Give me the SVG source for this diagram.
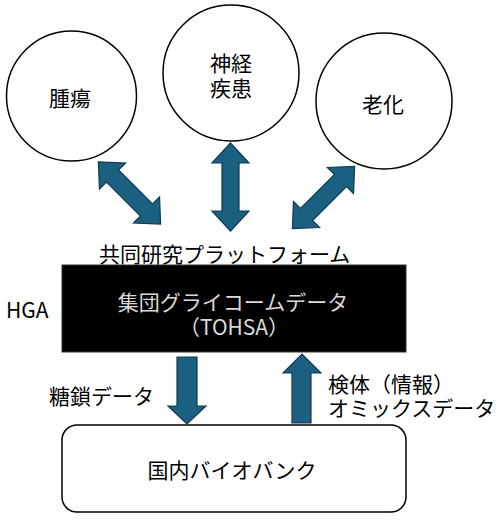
<svg xmlns="http://www.w3.org/2000/svg" width="500" height="520" viewBox="0 0 500 520">
<style>
.t{font-family:"Noto Sans CJK JP","Noto Sans",sans-serif;font-size:21px;fill:#000}
.w{fill:#d9d9d9}
.c{fill:#fff;stroke:#000;stroke-width:1.5}
.a{fill:#1b6080;stroke:#0f3a50;stroke-width:1.2}
</style>
<defs>
<path id="dbl" d="M0,-44 L18.5,-24 L8.5,-24 L8.5,24 L18.5,24 L0,44 L-18.5,24 L-8.5,24 L-8.5,-24 L-18.5,-24 Z"/>
</defs>
<rect width="500" height="520" fill="#fff"/>
<g id="tumor">
<circle class="c" cx="71.5" cy="96" r="65"/>
<text class="t" x="70" y="105.5" text-anchor="middle">腫瘍</text>
</g>
<g id="neuro">
<circle class="c" cx="231" cy="73" r="68"/>
<text class="t" x="231" y="70.5" text-anchor="middle">神経</text>
<text class="t" x="231" y="95.5" text-anchor="middle">疾患</text>
</g>
<g id="aging">
<circle class="c" cx="384" cy="101" r="68"/>
<text class="t" x="383" y="111.5" text-anchor="middle">老化</text>
</g>
<g id="platform">
<text class="t" x="99" y="261.5">共同研究プラットフォーム</text>
<rect x="62" y="265" width="344" height="87" fill="#000" stroke="#333" stroke-width="1"/>
<text class="t w" x="233" y="309.5" text-anchor="middle">集団グライコームデータ</text>
<text class="t w" x="234" y="334.5" text-anchor="middle">（TOHSA）</text>
</g>
<g id="hga">
<text class="t" x="6" y="317.5">HGA</text>
</g>
<g id="biobank">
<rect class="c" x="62" y="425" width="344" height="87" rx="15"/>
<text class="t" x="232" y="477.5" text-anchor="middle">国内バイオバンク</text>
</g>
<g id="connectors">
<use href="#dbl" class="a" transform="translate(129.5,193) rotate(-45)"/>
<use href="#dbl" class="a" transform="translate(230.5,187)"/>
<use href="#dbl" class="a" transform="translate(323.5,197.5) rotate(45)"/>
<path class="a" d="M177,357 L197,357 L197,406 L206,406 L187,424 L168,406 L177,406 Z"/>
<path class="a" d="M292,423 L311,423 L311,373 L321,373 L302,354 L283,373 L292,373 Z"/>
<text class="t" x="49" y="403.5">糖鎖データ</text>
<text class="t" x="328" y="391.5">検体（情報）</text>
<text class="t" x="328" y="415.5">オミックスデータ</text>
</g>
</svg>
